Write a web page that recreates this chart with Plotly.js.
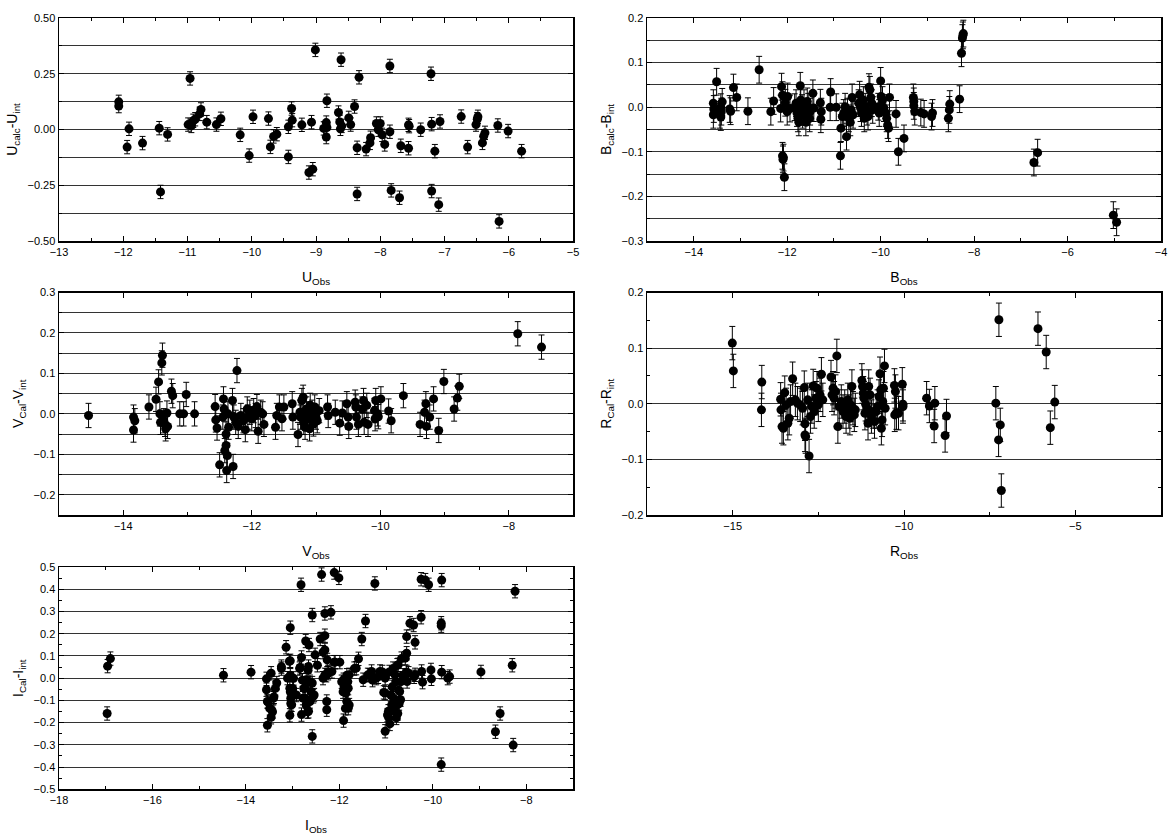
<!DOCTYPE html>
<html>
<head>
<meta charset="utf-8">
<script src="https://cdn.plot.ly/plotly-3.0.1.min.js"></script>
<style>
  html, body { margin: 0; padding: 0; background: #fff; }
  #chart { width: 1175px; height: 839px; }
</style>
</head>
<body>
<div id="chart"></div>
<script>
// -- Data ---------------------------------------------------------------------
const ERR = 0.03;   // error bar half-length, same for every point

const uObs = [-12.07, -12.07, -11.94, -11.91, -11.70, -11.44, -11.42, -11.31, -10.96, -10.99,
  -10.94, -10.91, -10.88, -10.81, -10.79, -10.70, -10.55, -10.48, -10.18, -10.04,
  -9.98, -9.74, -9.71, -9.66, -9.61, -9.43, -9.43, -9.38, -9.37, -9.22,
  -9.11, -9.05, -9.07, -9.01, -8.88, -8.84, -8.84, -8.83, -8.83, -8.65,
  -8.63, -8.62, -8.60, -8.61, -8.49, -8.46, -8.40, -8.36, -8.36, -8.33,
  -8.22, -8.16, -8.15, -8.06, -8.03, -8.00, -7.97, -7.93, -7.85, -7.85,
  -7.83, -7.70, -7.68, -7.56, -7.56, -7.55, -7.37, -7.21, -7.20, -7.20,
  -7.15, -7.09, -7.07, -6.74, -6.64, -6.51, -6.49, -6.48, -6.41, -6.39,
  -6.37, -6.17, -6.15, -6.01, -5.80];
const uRes = [0.124, 0.105, -0.079, 0.003, -0.061, 0.006, -0.280, -0.022, 0.229, 0.022,
  0.016, 0.039, 0.046, 0.070, 0.090, 0.033, 0.022, 0.048, -0.024, -0.117,
  0.057, 0.049, -0.078, -0.031, -0.021, 0.012, -0.123, 0.094, 0.042, 0.021,
  -0.193, -0.178, 0.033, 0.357, 0.005, 0.031, -0.034, 0.129, 0.009, 0.076,
  0.034, 0.003, 0.016, 0.313, 0.052, 0.022, 0.103, -0.082, -0.289, 0.234,
  -0.088, -0.060, -0.037, 0.027, -0.001, 0.027, -0.024, -0.067, -0.010, 0.285,
  -0.273, -0.306, -0.073, -0.084, 0.021, 0.015, -0.001, 0.250, 0.024, -0.276,
  -0.097, -0.337, 0.036, 0.058, -0.079, 0.022, 0.046, 0.057, -0.060, -0.030,
  -0.015, 0.018, -0.412, -0.007, -0.097];

const bObs = [-13.58, -13.58, -13.57, -13.51, -13.44, -13.42, -13.42, -13.41, -13.39, -13.23,
  -13.21, -13.15, -13.08, -12.84, -12.60, -12.35, -12.29, -12.14, -12.12, -12.10,
  -12.10, -12.08, -12.09, -12.06, -12.04, -12.00, -11.99, -11.94, -11.84, -11.81,
  -11.79, -11.77, -11.75, -11.72, -11.71, -11.68, -11.67, -11.64, -11.60, -11.59,
  -11.57, -11.55, -11.52, -11.51, -11.45, -11.43, -11.29, -11.28, -11.27, -11.08,
  -11.07, -10.95, -10.86, -10.85, -10.82, -10.79, -10.76, -10.73, -10.71, -10.68,
  -10.65, -10.63, -10.61, -10.59, -10.47, -10.45, -10.43, -10.41, -10.37, -10.35,
  -10.33, -10.29, -10.27, -10.25, -10.23, -10.21, -10.19, -10.17, -10.05, -10.03,
  -10.00, -9.99, -9.96, -9.93, -9.89, -9.87, -9.85, -9.83, -9.81, -9.67,
  -9.62, -9.50, -9.30, -9.29, -9.29, -9.27, -9.14, -9.07, -8.91, -8.89,
  -8.55, -8.53, -8.52, -8.31, -8.27, -8.25, -8.24, -8.23, -6.72, -6.64,
  -5.02, -4.95];
const bRes = [0.009, -0.017, -0.004, 0.057, -0.017, -0.022, 0.000, -0.010, 0.012, -0.004,
  -0.009, 0.044, 0.022, -0.009, 0.084, -0.010, 0.014, -0.003, 0.046, 0.027,
  -0.109, -0.113, -0.117, -0.157, 0.010, -0.010, 0.024, -0.003, 0.000, 0.009,
  -0.013, -0.025, -0.034, 0.048, 0.016, -0.002, -0.017, 0.009, -0.034, -0.010,
  0.013, 0.001, -0.025, -0.010, 0.031, -0.002, 0.010, -0.027, -0.010, 0.000,
  0.034, 0.000, -0.109, -0.047, -0.021, -0.013, 0.001, -0.066, -0.010, -0.025,
  -0.034, -0.006, 0.022, -0.017, 0.009, 0.028, -0.002, -0.013, 0.016, -0.025,
  0.001, -0.010, -0.021, 0.045, 0.039, 0.022, 0.009, -0.006, 0.001, -0.013,
  0.059, 0.024, 0.016, -0.002, -0.013, -0.025, -0.040, -0.047, 0.022, -0.015,
  -0.100, -0.070, 0.022, 0.013, 0.003, -0.010, -0.012, -0.015, -0.021, -0.013,
  -0.025, -0.006, 0.007, 0.018, 0.121, 0.155, 0.161, 0.165, -0.124, -0.102,
  -0.242, -0.258];

const vObs = [-14.54, -13.84, -13.84, -13.82, -13.60, -13.49, -13.45, -13.43, -13.42, -13.40,
  -13.39, -13.37, -13.35, -13.34, -13.32, -13.31, -13.25, -13.23, -13.12, -13.06,
  -13.02, -12.89, -12.57, -12.56, -12.54, -12.50, -12.45, -12.44, -12.43, -12.42,
  -12.40, -12.40, -12.39, -12.38, -12.37, -12.36, -12.30, -12.29, -12.28, -12.25,
  -12.23, -12.21, -12.17, -12.13, -12.10, -12.07, -12.06, -12.03, -12.00, -11.97,
  -11.94, -11.92, -11.90, -11.86, -11.83, -11.81, -11.63, -11.61, -11.57, -11.53,
  -11.50, -11.37, -11.36, -11.28, -11.25, -11.24, -11.22, -11.20, -11.19, -11.17,
  -11.15, -11.14, -11.12, -11.10, -11.09, -11.06, -11.04, -11.02, -11.00, -10.98,
  -10.95, -10.82, -10.81, -10.70, -10.63, -10.59, -10.52, -10.50, -10.49, -10.39,
  -10.38, -10.37, -10.34, -10.28, -10.26, -10.25, -10.21, -10.19, -10.09, -10.08,
  -10.07, -10.04, -10.03, -9.99, -9.87, -9.83, -9.64, -9.38, -9.31, -9.29,
  -9.28, -9.23, -9.17, -9.09, -9.01, -8.85, -8.80, -8.77, -7.86, -7.49];
const vRes = [-0.004, -0.008, -0.040, -0.017, 0.017, 0.036, 0.079, 0.000, -0.021, 0.126,
  0.145, -0.017, -0.026, -0.037, 0.002, -0.031, 0.056, 0.045, 0.000, 0.000,
  0.048, 0.000, 0.018, -0.015, -0.035, -0.126, -0.008, 0.037, 0.012, -0.091,
  -0.078, -0.050, -0.140, -0.103, 0.000, -0.033, 0.033, -0.130, -0.008, -0.021,
  0.107, -0.031, -0.004, -0.017, -0.039, 0.012, -0.008, 0.004, -0.012, 0.008,
  -0.004, 0.018, -0.043, 0.004, 0.000, -0.026, -0.033, -0.004, 0.017, -0.012,
  0.017, 0.025, -0.008, -0.051, 0.004, -0.008, 0.033, 0.041, -0.021, -0.033,
  0.012, 0.000, -0.012, -0.037, 0.021, 0.004, -0.025, 0.017, -0.008, -0.017,
  0.008, 0.017, -0.004, 0.004, -0.023, 0.002, 0.025, -0.008, -0.031, 0.029,
  0.017, -0.008, -0.026, 0.012, 0.033, -0.021, 0.021, -0.026, 0.008, -0.012,
  0.033, 0.000, -0.007, 0.037, 0.007, -0.017, 0.045, -0.026, 0.004, 0.025,
  -0.031, -0.008, 0.037, -0.041, 0.080, 0.012, 0.039, 0.068, 0.198, 0.165];

const rObs = [-15.01, -14.98, -14.15, -14.16, -13.60, -13.59, -13.56, -13.52, -13.48, -13.44,
  -13.39, -13.35, -13.31, -13.25, -13.17, -13.11, -13.03, -12.96, -12.91, -12.89,
  -12.89, -12.87, -12.81, -12.77, -12.73, -12.69, -12.65, -12.62, -12.57, -12.54,
  -12.50, -12.45, -12.41, -12.37, -12.13, -12.10, -12.07, -12.04, -12.00, -11.96,
  -11.93, -11.89, -11.83, -11.78, -11.73, -11.69, -11.64, -11.61, -11.58, -11.56,
  -11.52, -11.49, -11.45, -11.42, -11.23, -11.21, -11.19, -11.17, -11.14, -11.12,
  -11.08, -11.05, -11.03, -10.99, -10.95, -10.90, -10.86, -10.81, -10.77, -10.73,
  -10.70, -10.68, -10.66, -10.64, -10.62, -10.60, -10.57, -10.55, -10.28, -10.27,
  -10.25, -10.22, -10.16, -10.05, -10.03, -10.03, -9.34, -9.26, -9.10, -9.12,
  -8.80, -8.76, -7.32, -7.23, -7.24, -7.19, -7.16, -6.09, -5.85, -5.73,
  -5.60];
const rRes = [0.109, 0.059, 0.039, -0.011, 0.008, -0.011, -0.041, -0.044, 0.020, -0.002,
  -0.035, -0.026, 0.004, 0.045, 0.007, 0.001, -0.002, -0.008, 0.029, -0.036,
  -0.056, -0.059, 0.007, -0.094, -0.023, -0.005, 0.032, -0.014, 0.010, 0.028,
  -0.002, 0.016, 0.053, 0.007, 0.048, 0.016, 0.028, 0.010, 0.022, 0.086,
  -0.041, -0.005, 0.004, -0.014, -0.005, -0.023, 0.007, -0.014, -0.026, -0.002,
  0.031, -0.008, -0.020, -0.011, 0.042, 0.031, 0.019, 0.010, -0.017, -0.001,
  -0.008, -0.035, 0.031, 0.016, -0.023, -0.014, -0.032, -0.014, -0.005, 0.013,
  0.054, 0.025, -0.044, -0.029, 0.004, 0.028, 0.068, -0.008, 0.033, -0.020,
  0.022, -0.016, -0.017, 0.035, -0.005, -0.001, 0.010, -0.004, 0.001, -0.040,
  -0.057, -0.022, 0.001, 0.151, -0.065, -0.038, -0.156, 0.135, 0.093, -0.043,
  0.003];

const iObs = [-16.96, -16.90, -16.97, -14.48, -13.89,
  -12.82, -12.38, -12.11, -12.01, -11.24, -10.25, -10.16, -10.09, -9.81,
  -12.58, -12.31, -12.18, -13.05, -11.44, -10.25, -10.49, -10.41, -9.82, -9.82,
  -11.52, -10.56, -10.38, -12.72, -12.65, -12.41, -12.31, -13.14, -12.31, -12.35,
  -12.52, -12.81, -13.05, -10.56, -10.59, -11.59, -12.26, -12.11, -11.99, -13.24,
  -12.84, -12.66, -11.64, -12.24, -12.35,
  -13.56, -13.46, -13.34, -13.56, -13.54, -13.41, -13.45, -13.46, -13.54, -13.11,
  -13.06, -13.04, -13.02, -13.06, -12.81, -12.78, -12.74, -12.71, -12.66, -12.63,
  -12.61, -12.58, -12.56, -12.58, -12.27, -12.27, -12.31, -12.16, -12.09, -11.91,
  -11.91, -11.87, -11.86, -11.84, -11.81, -11.81, -11.79, -11.49, -11.39, -11.31,
  -11.21, -11.13, -11.02, -11.02, -11.02, -10.95, -10.94, -10.92, -10.88, -10.84,
  -10.82, -10.81, -10.78, -10.76, -10.74, -10.71, -10.69, -10.68, -10.55, -10.52,
  -10.38, -10.24, -10.22, -10.04, -10.03, -9.81, -9.68, -9.64, -9.82,
  -13.53, -13.49, -13.43, -13.40, -13.37, -13.24, -13.07, -13.05, -13.05, -13.04,
  -13.00, -12.98, -12.92, -12.85, -12.79, -12.76, -12.73, -12.71, -12.68, -12.67,
  -12.63, -12.54, -12.47, -12.28, -12.24, -11.95, -11.92, -11.90, -11.87, -11.84,
  -11.82, -11.79, -11.68, -11.36, -11.29, -11.17, -11.08, -11.05, -10.97, -10.93,
  -10.90, -10.87, -10.85, -10.84, -10.79, -10.76, -10.75, -10.73, -10.72, -10.67,
  -10.64, -10.56, -10.40,
  -8.97, -8.66, -8.56, -8.30, -8.28, -8.24];
const iRes = [0.054, 0.088, -0.159, 0.013, 0.027,
  0.420, 0.466, 0.475, 0.451, 0.426, 0.445, 0.441, 0.420, 0.441,
  0.284, 0.291, 0.296, 0.227, 0.257, 0.274, 0.247, 0.239, 0.247, 0.236,
  0.176, 0.187, 0.161, 0.167, 0.149, 0.176, 0.191, 0.139, 0.127, 0.117,
  0.105, 0.093, 0.078, 0.112, 0.090, 0.087, 0.082, 0.072, 0.072, 0.052,
  0.048, 0.052, 0.045, 0.022, 0.000,
  -0.003, 0.022, -0.022, -0.052, -0.105, -0.090, -0.142, -0.176, -0.212, 0.000,
  -0.045, -0.090, -0.120, -0.167, -0.164, -0.090, -0.045, -0.007, -0.149, -0.105,
  -0.060, -0.022, -0.082, -0.262, -0.105, -0.142, 0.015, 0.030, 0.072, -0.007,
  -0.191, -0.030, -0.067, -0.105, -0.135, -0.045, 0.015, -0.007, 0.015, 0.030,
  0.000, 0.030, 0.000, -0.067, -0.239, -0.149, -0.179, -0.206, -0.120, -0.090,
  -0.149, 0.015, -0.179, -0.120, 0.060, -0.060, -0.097, -0.015, -0.015, 0.022,
  0.015, 0.030, -0.018, 0.037, -0.003, 0.027, 0.000, 0.007, -0.389,
  -0.106, -0.136, -0.151, -0.084, -0.046, 0.043, 0.076, 0.013, -0.061, -0.114,
  -0.046, -0.001, -0.076, 0.043, -0.009, -0.046, -0.091, -0.121, -0.151, 0.036,
  -0.016, -0.076, 0.058, 0.013, 0.028, -0.016, -0.061, -0.039, -0.136, 0.013,
  -0.016, -0.121, 0.043, 0.013, -0.009, 0.006, 0.028, -0.064, -0.166, 0.028,
  -0.076, -0.039, 0.043, -0.144, -0.016, 0.058, -0.159, -0.054, -0.114, 0.088,
  0.013, 0.028, 0.006,
  0.028, -0.241, -0.159, 0.058, -0.301, 0.391];

// -- Style helpers ------------------------------------------------------------
const FONT = 'Liberation Sans, Arial, sans-serif';

function scatter(x, y, xa, ya) {
  return {
    x: x, y: y, xaxis: xa, yaxis: ya,
    type: 'scatter', mode: 'markers',
    marker: { color: '#000', size: 9 },
    error_y: { type: 'constant', value: ERR, color: '#000', thickness: 1, width: 3 },
    showlegend: false,
    hoverinfo: 'x+y',
  };
}

function xAxis(domain, anchor, range, tick0, dtick, minor, title) {
  return {
    domain: domain, anchor: anchor, range: range,
    tick0: tick0, dtick: dtick,
    ticks: 'inside', ticklen: 5, tickcolor: '#000', tickwidth: 1,
    minor: { dtick: minor, ticks: 'inside', ticklen: 3, tickcolor: '#000', showgrid: false },
    showline: true, linecolor: '#000', linewidth: 1.5, mirror: 'allticks',
    showgrid: false, zeroline: false,
    tickfont: { family: FONT, size: 11, color: '#000' },
    title: { text: title, font: { family: FONT, size: 14, color: '#000' }, standoff: 15 },
  };
}

function yAxis(domain, anchor, range, tick0, dtick, fmt, minor, minorGrid, title) {
  return {
    domain: domain, anchor: anchor, range: range,
    tick0: tick0, dtick: dtick, tickformat: fmt,
    ticks: 'inside', ticklen: 5, tickcolor: '#000', tickwidth: 1,
    minor: { dtick: minor, ticks: 'inside', ticklen: 3, tickcolor: '#000',
             showgrid: minorGrid, gridcolor: '#333', gridwidth: 1 },
    showline: true, linecolor: '#000', linewidth: 1.5, mirror: 'allticks',
    showgrid: true, gridcolor: '#333', gridwidth: 1, zeroline: false,
    tickfont: { family: FONT, size: 11, color: '#000' },
    title: { text: title, font: { family: FONT, size: 14, color: '#000' }, standoff: 6 },
  };
}

// pixel boxes of the five frames, converted to paper fractions
const W = 1175, H = 839;
const colL = [59 / W, 573 / W];
const colR = [647 / W, 1161 / W];
const row1 = [(H - 241) / H, (H - 18) / H];
const row2 = [(H - 515) / H, (H - 292.5) / H];
const row3 = [(H - 789.3) / H, (H - 567) / H];

const traces = [
  scatter(uObs, uRes, 'x', 'y'),
  scatter(bObs, bRes, 'x2', 'y2'),
  scatter(vObs, vRes, 'x3', 'y3'),
  scatter(rObs, rRes, 'x4', 'y4'),
  scatter(iObs, iRes, 'x5', 'y5'),
];

const layout = {
  width: W, height: H,
  margin: { l: 0, r: 0, t: 0, b: 0 },
  paper_bgcolor: '#fff', plot_bgcolor: '#fff',
  font: { family: FONT, color: '#000' },
  xaxis:  xAxis(colL, 'y',  [-13, -5],   -13, 1, 0.5, 'U<sub>Obs</sub>'),
  yaxis:  yAxis(row1, 'x',  [-0.5, 0.5], 0, 0.25, '.2f', 0.125, true, 'U<sub>calc</sub>-U<sub>int</sub>'),
  xaxis2: xAxis(colR, 'y2', [-15, -4],   -14, 2, 1, 'B<sub>Obs</sub>'),
  yaxis2: yAxis(row1, 'x2', [-0.3, 0.2], 0, 0.1, '.1f', 0.05, true, 'B<sub>calc</sub>-B<sub>int</sub>'),
  xaxis3: xAxis(colL, 'y3', [-15, -7],   -14, 2, 1, 'V<sub>Obs</sub>'),
  yaxis3: yAxis(row2, 'x3', [-0.25, 0.3], 0, 0.1, '.1f', 0.05, true, 'V<sub>Cal</sub>-V<sub>int</sub>'),
  xaxis4: xAxis(colR, 'y4', [-17.5, -2.5], -15, 5, 2.5, 'R<sub>Obs</sub>'),
  yaxis4: yAxis(row2, 'x4', [-0.2, 0.2], 0, 0.1, '.1f', 0.05, false, 'R<sub>Cal</sub>-R<sub>int</sub>'),
  xaxis5: xAxis(colL, 'y5', [-18, -7],   -18, 2, 1, 'I<sub>Obs</sub>'),
  yaxis5: yAxis(row3, 'x5', [-0.5, 0.5], 0, 0.1, '.1f', 0.05, false, 'I<sub>Cal</sub>-I<sub>int</sub>'),
};

Plotly.newPlot('chart', traces, layout, { displayModeBar: false, staticPlot: true });
</script>
</body>
</html>
